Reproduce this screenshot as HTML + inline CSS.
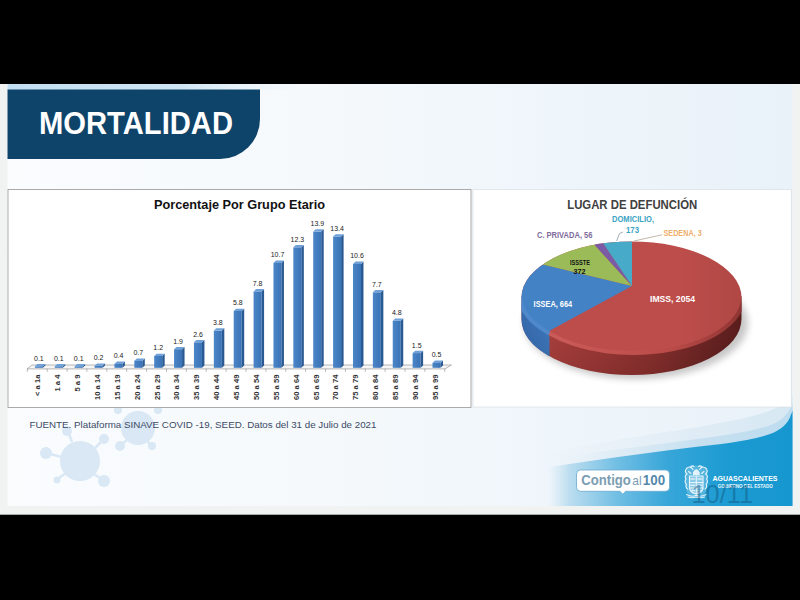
<!DOCTYPE html>
<html><head><meta charset="utf-8"><title>Mortalidad</title>
<style>
html,body{margin:0;padding:0;background:#000;}
body{width:800px;height:600px;overflow:hidden;font-family:"Liberation Sans",sans-serif;}
svg{display:block;}
text{font-family:"Liberation Sans",sans-serif;}
.vl{font-size:7px;fill:#222;text-anchor:middle;}
.cl{font-size:7.6px;font-weight:bold;fill:#333;text-anchor:end;}
</style></head><body>
<svg width="800" height="600" viewBox="0 0 800 600">
<defs>
<linearGradient id="bg" x1="0" y1="0" x2="1" y2="0">
<stop offset="0" stop-color="#fafcfe"/><stop offset="0.4" stop-color="#f5f9fc"/><stop offset="1" stop-color="#e9f2f9"/>
</linearGradient>
<linearGradient id="bf" x1="0" y1="0" x2="1" y2="0">
<stop offset="0" stop-color="#4b86c8"/><stop offset="1" stop-color="#3a73b6"/>
</linearGradient>
<linearGradient id="sw" gradientUnits="userSpaceOnUse" x1="548" y1="0" x2="791" y2="0">
<stop offset="0" stop-color="#c5e2f2" stop-opacity="0"/><stop offset="0.09" stop-color="#b5daee" stop-opacity="0.9"/><stop offset="0.28" stop-color="#72bfe4"/><stop offset="0.49" stop-color="#38a6d9"/><stop offset="0.74" stop-color="#1c9bd2"/><stop offset="1" stop-color="#1797cf"/>
</linearGradient>
<linearGradient id="sw2" gradientUnits="userSpaceOnUse" x1="560" y1="0" x2="791" y2="0">
<stop offset="0" stop-color="#d9eaf5" stop-opacity="0"/><stop offset="0.6" stop-color="#c6e0f0"/><stop offset="1" stop-color="#bddcef"/>
</linearGradient>
<linearGradient id="sw3" gradientUnits="userSpaceOnUse" x1="540" y1="0" x2="791" y2="0">
<stop offset="0" stop-color="#e6eff6" stop-opacity="0"/><stop offset="0.6" stop-color="#e0ecf5"/><stop offset="1" stop-color="#d6e8f3"/>
</linearGradient>
<linearGradient id="strip" gradientUnits="userSpaceOnUse" x1="7" y1="0" x2="300" y2="0">
<stop offset="0" stop-color="#c2def2"/><stop offset="0.6" stop-color="#cfe5f4"/><stop offset="1" stop-color="#e6f0f8" stop-opacity="0"/>
</linearGradient>
<clipPath id="slide"><rect x="7.5" y="84" width="785" height="422"/></clipPath>
<clipPath id="pieclip"><ellipse cx="631.5" cy="297.5" rx="110" ry="56"/></clipPath>
<clipPath id="piesil"><ellipse cx="631.5" cy="297.5" rx="110" ry="56"/><path d="M521.5 297.5 A110 56 0 0 0 741.5 297.5 V319 A110 56 0 0 1 521.5 319Z"/></clipPath>
<filter id="blur3" x="-20%" y="-20%" width="140%" height="140%"><feGaussianBlur stdDeviation="3.5"/></filter>
<linearGradient id="sidev" x1="0" y1="0" x2="0" y2="1"><stop offset="0.35" stop-color="#000" stop-opacity="0"/><stop offset="1" stop-color="#000" stop-opacity="0.11"/></linearGradient>
<linearGradient id="topshade" gradientUnits="userSpaceOnUse" x1="521" y1="0" x2="742" y2="0"><stop offset="0.7" stop-color="#000" stop-opacity="0"/><stop offset="1" stop-color="#000" stop-opacity="0.07"/></linearGradient>
<linearGradient id="bevr" gradientUnits="userSpaceOnUse" x1="549" y1="0" x2="741" y2="0"><stop offset="0" stop-color="#ca5b58"/><stop offset="0.35" stop-color="#c35350"/><stop offset="0.65" stop-color="#b84a47"/><stop offset="1" stop-color="#8f3533"/></linearGradient>
<linearGradient id="redside" x1="0" y1="0" x2="1" y2="0">
<stop offset="0" stop-color="#b04441"/><stop offset="0.3" stop-color="#a03a38"/><stop offset="0.6" stop-color="#8a302e"/><stop offset="0.85" stop-color="#6a2423"/><stop offset="1" stop-color="#591d1c"/>
</linearGradient>
<linearGradient id="blueside" x1="0" y1="0" x2="1" y2="0">
<stop offset="0" stop-color="#3569ab"/><stop offset="1" stop-color="#3d76bb"/>
</linearGradient>
</defs>
<rect width="800" height="600" fill="#000"/>
<rect x="0" y="84" width="800" height="430.7" fill="#f1f2f2"/>
<rect x="7.5" y="84" width="785" height="422" fill="url(#bg)"/>
<g clip-path="url(#slide)">
<!-- virus motifs -->
<g fill="#d9e8f4">
<circle cx="80" cy="461" r="20"/>
<circle cx="46" cy="453" r="6"/><path d="M50 454 L62 457" stroke="#d9e8f4" stroke-width="2.5"/>
<circle cx="104" cy="439" r="5"/><path d="M102 441 L95 448" stroke="#d9e8f4" stroke-width="2.5"/>
<circle cx="104" cy="481" r="6"/><path d="M100 478 L94 474" stroke="#d9e8f4" stroke-width="2.5"/>
<circle cx="57" cy="480" r="3.5"/><path d="M59 478 L66 473" stroke="#d9e8f4" stroke-width="2.5"/>
<circle cx="67" cy="431" r="5"/><path d="M69 434 L72 442" stroke="#d9e8f4" stroke-width="2.5"/>
<circle cx="138" cy="428" r="17"/>
<circle cx="120" cy="446" r="5"/><path d="M122 444 L127 440" stroke="#d9e8f4" stroke-width="2.5"/>
<circle cx="152" cy="446" r="4"/><path d="M150 444 L147 441" stroke="#d9e8f4" stroke-width="2.5"/>
<circle cx="118" cy="410" r="4"/><circle cx="158" cy="410" r="4"/>
</g>
<!-- swoosh -->
<path d="M793 395.500 L791 398 C780 410 755 416 730 421 C700 427 680 430 660 433 C630 438 600 442 560 450 L520 460 L520 506 L793 506Z" fill="url(#sw3)"/>
<path d="M793 404 L791 407 C786 418 776 424 765 427 C745 433 700 439 660 444 C625 449 590 452 560 458 L520 468 L520 506 L793 506Z" fill="url(#sw2)"/>
<path d="M793 410 L791 414.5 C788 424 781 430 770 434 C750 441 720 444 695 447 C660 451 625 456 590 461 C560 465 530 470 500 476 L500 506 L793 506Z" fill="url(#sw)"/>
</g>
<!-- banner -->
<rect x="7.5" y="84" width="293" height="6" fill="url(#strip)"/>
<path d="M7.5 89.5 H260 V119 A40 40 0 0 1 220 159 H7.5Z" fill="#0e4469"/>
<text x="39" y="134.2" font-size="31" font-weight="bold" fill="#fff" textLength="194" lengthAdjust="spacingAndGlyphs">MORTALIDAD</text>
<!-- bar chart box -->
<rect x="8" y="189.5" width="463" height="218" fill="#fff" stroke="#a2a2a2" stroke-width="0.9"/>
<text x="239.5" y="209" font-size="13" font-weight="bold" fill="#111" text-anchor="middle" textLength="171" lengthAdjust="spacingAndGlyphs">Porcentaje Por Grupo Etario</text>
<!-- floor -->
<path d="M27 368.9 L32 365 H451.5 L445 368.9Z" fill="#f6f6f6" stroke="#9a9a9a" stroke-width="0.7"/>
<rect x="34.90" y="366.3" width="8" height="1.5" fill="url(#bf)"/>
<path d="M42.90 366.3 l2.5 -2.3 v1.5 l-2.5 2.3z" fill="#2a5a94"/>
<path d="M34.90 366.3 l2.5 -2.3 h8 l-2.5 2.3z" fill="#6fa0d8"/>
<text x="38.9" y="360.7" class="vl">0.1</text>
<text transform="translate(40.2 374.6) rotate(-90)" class="cl">&lt; a 1a</text>
<path d="M27.3 368.8 v3" stroke="#9a9a9a" stroke-width="0.7"/>
<rect x="54.78" y="366.3" width="8" height="1.5" fill="url(#bf)"/>
<path d="M62.78 366.3 l2.5 -2.3 v1.5 l-2.5 2.3z" fill="#2a5a94"/>
<path d="M54.78 366.3 l2.5 -2.3 h8 l-2.5 2.3z" fill="#6fa0d8"/>
<text x="58.8" y="360.7" class="vl">0.1</text>
<text transform="translate(60.1 374.6) rotate(-90)" class="cl">1 a 4</text>
<path d="M47.2 368.8 v3" stroke="#9a9a9a" stroke-width="0.7"/>
<rect x="74.66" y="366.3" width="8" height="1.5" fill="url(#bf)"/>
<path d="M82.66 366.3 l2.5 -2.3 v1.5 l-2.5 2.3z" fill="#2a5a94"/>
<path d="M74.66 366.3 l2.5 -2.3 h8 l-2.5 2.3z" fill="#6fa0d8"/>
<text x="78.7" y="360.7" class="vl">0.1</text>
<text transform="translate(80.0 374.6) rotate(-90)" class="cl">5 a 9</text>
<path d="M67.1 368.8 v3" stroke="#9a9a9a" stroke-width="0.7"/>
<rect x="94.54" y="365.8" width="8" height="2.0" fill="url(#bf)"/>
<path d="M102.54 365.8 l2.5 -2.3 v2.0 l-2.5 2.3z" fill="#2a5a94"/>
<path d="M94.54 365.8 l2.5 -2.3 h8 l-2.5 2.3z" fill="#6fa0d8"/>
<text x="98.6" y="360.2" class="vl">0.2</text>
<text transform="translate(99.9 374.6) rotate(-90)" class="cl">10 a 14</text>
<path d="M86.9 368.8 v3" stroke="#9a9a9a" stroke-width="0.7"/>
<rect x="114.42" y="363.9" width="8" height="3.9" fill="url(#bf)"/>
<path d="M122.42 363.9 l2.5 -2.3 v3.9 l-2.5 2.3z" fill="#2a5a94"/>
<path d="M114.42 363.9 l2.5 -2.3 h8 l-2.5 2.3z" fill="#6fa0d8"/>
<text x="118.5" y="358.3" class="vl">0.4</text>
<text transform="translate(119.8 374.6) rotate(-90)" class="cl">15 a 19</text>
<path d="M106.8 368.8 v3" stroke="#9a9a9a" stroke-width="0.7"/>
<rect x="134.30" y="360.9" width="8" height="6.9" fill="url(#bf)"/>
<path d="M142.30 360.9 l2.5 -2.3 v6.9 l-2.5 2.3z" fill="#2a5a94"/>
<path d="M134.30 360.9 l2.5 -2.3 h8 l-2.5 2.3z" fill="#6fa0d8"/>
<text x="138.3" y="355.3" class="vl">0.7</text>
<text transform="translate(139.6 374.6) rotate(-90)" class="cl">20 a 24</text>
<path d="M126.7 368.8 v3" stroke="#9a9a9a" stroke-width="0.7"/>
<rect x="154.18" y="356.0" width="8" height="11.8" fill="url(#bf)"/>
<path d="M162.18 356.0 l2.5 -2.3 v11.8 l-2.5 2.3z" fill="#2a5a94"/>
<path d="M154.18 356.0 l2.5 -2.3 h8 l-2.5 2.3z" fill="#6fa0d8"/>
<text x="158.2" y="350.4" class="vl">1.2</text>
<text transform="translate(159.5 374.6) rotate(-90)" class="cl">25 a 29</text>
<path d="M146.6 368.8 v3" stroke="#9a9a9a" stroke-width="0.7"/>
<rect x="174.06" y="349.2" width="8" height="18.6" fill="url(#bf)"/>
<path d="M182.06 349.2 l2.5 -2.3 v18.6 l-2.5 2.3z" fill="#2a5a94"/>
<path d="M174.06 349.2 l2.5 -2.3 h8 l-2.5 2.3z" fill="#6fa0d8"/>
<text x="178.1" y="343.6" class="vl">1.9</text>
<text transform="translate(179.4 374.6) rotate(-90)" class="cl">30 a 34</text>
<path d="M166.5 368.8 v3" stroke="#9a9a9a" stroke-width="0.7"/>
<rect x="193.94" y="342.3" width="8" height="25.5" fill="url(#bf)"/>
<path d="M201.94 342.3 l2.5 -2.3 v25.5 l-2.5 2.3z" fill="#2a5a94"/>
<path d="M193.94 342.3 l2.5 -2.3 h8 l-2.5 2.3z" fill="#6fa0d8"/>
<text x="198.0" y="336.7" class="vl">2.6</text>
<text transform="translate(199.3 374.6) rotate(-90)" class="cl">35 a 39</text>
<path d="M186.3 368.8 v3" stroke="#9a9a9a" stroke-width="0.7"/>
<rect x="213.82" y="330.6" width="8" height="37.2" fill="url(#bf)"/>
<path d="M221.82 330.6 l2.5 -2.3 v37.2 l-2.5 2.3z" fill="#2a5a94"/>
<path d="M213.82 330.6 l2.5 -2.3 h8 l-2.5 2.3z" fill="#6fa0d8"/>
<text x="217.9" y="325.0" class="vl">3.8</text>
<text transform="translate(219.2 374.6) rotate(-90)" class="cl">40 a 44</text>
<path d="M206.2 368.8 v3" stroke="#9a9a9a" stroke-width="0.7"/>
<rect x="233.70" y="311.0" width="8" height="56.8" fill="url(#bf)"/>
<path d="M241.70 311.0 l2.5 -2.3 v56.8 l-2.5 2.3z" fill="#2a5a94"/>
<path d="M233.70 311.0 l2.5 -2.3 h8 l-2.5 2.3z" fill="#6fa0d8"/>
<text x="237.8" y="305.4" class="vl">5.8</text>
<text transform="translate(239.0 374.6) rotate(-90)" class="cl">45 a 49</text>
<path d="M226.1 368.8 v3" stroke="#9a9a9a" stroke-width="0.7"/>
<rect x="253.58" y="291.4" width="8" height="76.4" fill="url(#bf)"/>
<path d="M261.58 291.4 l2.5 -2.3 v76.4 l-2.5 2.3z" fill="#2a5a94"/>
<path d="M253.58 291.4 l2.5 -2.3 h8 l-2.5 2.3z" fill="#6fa0d8"/>
<text x="257.6" y="285.8" class="vl">7.8</text>
<text transform="translate(258.9 374.6) rotate(-90)" class="cl">50 a 54</text>
<path d="M246.0 368.8 v3" stroke="#9a9a9a" stroke-width="0.7"/>
<rect x="273.46" y="262.9" width="8" height="104.9" fill="url(#bf)"/>
<path d="M281.46 262.9 l2.5 -2.3 v104.9 l-2.5 2.3z" fill="#2a5a94"/>
<path d="M273.46 262.9 l2.5 -2.3 h8 l-2.5 2.3z" fill="#6fa0d8"/>
<text x="277.5" y="257.3" class="vl">10.7</text>
<text transform="translate(278.8 374.6) rotate(-90)" class="cl">55 a 59</text>
<path d="M265.9 368.8 v3" stroke="#9a9a9a" stroke-width="0.7"/>
<rect x="293.34" y="247.3" width="8" height="120.5" fill="url(#bf)"/>
<path d="M301.34 247.3 l2.5 -2.3 v120.5 l-2.5 2.3z" fill="#2a5a94"/>
<path d="M293.34 247.3 l2.5 -2.3 h8 l-2.5 2.3z" fill="#6fa0d8"/>
<text x="297.4" y="241.7" class="vl">12.3</text>
<text transform="translate(298.7 374.6) rotate(-90)" class="cl">60 a 64</text>
<path d="M285.8 368.8 v3" stroke="#9a9a9a" stroke-width="0.7"/>
<rect x="313.22" y="231.6" width="8" height="136.2" fill="url(#bf)"/>
<path d="M321.22 231.6 l2.5 -2.3 v136.2 l-2.5 2.3z" fill="#2a5a94"/>
<path d="M313.22 231.6 l2.5 -2.3 h8 l-2.5 2.3z" fill="#6fa0d8"/>
<text x="317.3" y="226.0" class="vl">13.9</text>
<text transform="translate(318.6 374.6) rotate(-90)" class="cl">65 a 69</text>
<path d="M305.6 368.8 v3" stroke="#9a9a9a" stroke-width="0.7"/>
<rect x="333.10" y="236.5" width="8" height="131.3" fill="url(#bf)"/>
<path d="M341.10 236.5 l2.5 -2.3 v131.3 l-2.5 2.3z" fill="#2a5a94"/>
<path d="M333.10 236.5 l2.5 -2.3 h8 l-2.5 2.3z" fill="#6fa0d8"/>
<text x="337.1" y="230.9" class="vl">13.4</text>
<text transform="translate(338.4 374.6) rotate(-90)" class="cl">70 a 74</text>
<path d="M325.5 368.8 v3" stroke="#9a9a9a" stroke-width="0.7"/>
<rect x="352.98" y="263.9" width="8" height="103.9" fill="url(#bf)"/>
<path d="M360.98 263.9 l2.5 -2.3 v103.9 l-2.5 2.3z" fill="#2a5a94"/>
<path d="M352.98 263.9 l2.5 -2.3 h8 l-2.5 2.3z" fill="#6fa0d8"/>
<text x="357.0" y="258.3" class="vl">10.6</text>
<text transform="translate(358.3 374.6) rotate(-90)" class="cl">75 a 79</text>
<path d="M345.4 368.8 v3" stroke="#9a9a9a" stroke-width="0.7"/>
<rect x="372.86" y="292.3" width="8" height="75.5" fill="url(#bf)"/>
<path d="M380.86 292.3 l2.5 -2.3 v75.5 l-2.5 2.3z" fill="#2a5a94"/>
<path d="M372.86 292.3 l2.5 -2.3 h8 l-2.5 2.3z" fill="#6fa0d8"/>
<text x="376.9" y="286.7" class="vl">7.7</text>
<text transform="translate(378.2 374.6) rotate(-90)" class="cl">80 a 84</text>
<path d="M365.3 368.8 v3" stroke="#9a9a9a" stroke-width="0.7"/>
<rect x="392.74" y="320.8" width="8" height="47.0" fill="url(#bf)"/>
<path d="M400.74 320.8 l2.5 -2.3 v47.0 l-2.5 2.3z" fill="#2a5a94"/>
<path d="M392.74 320.8 l2.5 -2.3 h8 l-2.5 2.3z" fill="#6fa0d8"/>
<text x="396.8" y="315.2" class="vl">4.8</text>
<text transform="translate(398.1 374.6) rotate(-90)" class="cl">85 a 89</text>
<path d="M385.1 368.8 v3" stroke="#9a9a9a" stroke-width="0.7"/>
<rect x="412.62" y="353.1" width="8" height="14.7" fill="url(#bf)"/>
<path d="M420.62 353.1 l2.5 -2.3 v14.7 l-2.5 2.3z" fill="#2a5a94"/>
<path d="M412.62 353.1 l2.5 -2.3 h8 l-2.5 2.3z" fill="#6fa0d8"/>
<text x="416.7" y="347.5" class="vl">1.5</text>
<text transform="translate(418.0 374.6) rotate(-90)" class="cl">90 a 94</text>
<path d="M405.0 368.8 v3" stroke="#9a9a9a" stroke-width="0.7"/>
<rect x="432.50" y="362.9" width="8" height="4.9" fill="url(#bf)"/>
<path d="M440.50 362.9 l2.5 -2.3 v4.9 l-2.5 2.3z" fill="#2a5a94"/>
<path d="M432.50 362.9 l2.5 -2.3 h8 l-2.5 2.3z" fill="#6fa0d8"/>
<text x="436.5" y="357.3" class="vl">0.5</text>
<text transform="translate(437.8 374.6) rotate(-90)" class="cl">95 a 99</text>
<path d="M424.9 368.8 v3" stroke="#9a9a9a" stroke-width="0.7"/>
<path d="M444.8 368.8 v3" stroke="#9a9a9a" stroke-width="0.7"/>
<!-- pie box -->
<rect x="473" y="189.5" width="318.3" height="217.5" fill="#fff" stroke="#dbe1e5" stroke-width="0.8"/>
<text x="632.2" y="209.3" font-size="12" font-weight="bold" fill="#404040" text-anchor="middle" textLength="130" lengthAdjust="spacingAndGlyphs">LUGAR DE DEFUNCIÓN</text>
<!-- pie -->
<ellipse cx="636" cy="323" rx="112" ry="56" fill="#000" opacity="0.22" filter="url(#blur3)"/>
<path d="M521.5 297.5 A110 56 0 0 0 741.5 297.5 V319 A110 56 0 0 1 521.5 319Z" fill="url(#redside)"/>
<path d="M521.5 297.5 A110 56 0 0 0 549.5 334.9 V356.4 A110 56 0 0 1 521.5 319Z" fill="url(#blueside)"/>
<path d="M521.5 297.5 A110 56 0 0 0 741.5 297.5 V319 A110 56 0 0 1 521.5 319Z" fill="url(#sidev)"/>
<g clip-path="url(#pieclip)">
<rect x="500" y="230" width="260" height="140" fill="#bd4d4a"/>
<path d="M632 286 L383 421 L359 220 Z" fill="#4382c4"/>
<path d="M632 286 L359 220 L519.2 161.8 Z" fill="#9bbb59"/>
<path d="M632 286 L519.2 161.8 L545 157 Z" fill="#7b5aa6"/>
<path d="M632 286 L545 157 L632 157 Z" fill="#46aac8"/>
<rect x="500" y="230" width="260" height="140" fill="url(#topshade)"/>
</g>
<!-- bevel -->
<g fill="none" stroke-width="4" stroke-linecap="butt" clip-path="url(#piesil)">
<path d="M520 296 A110 56 0 0 0 549.500 333.400" stroke="#5089cb"/>
<path d="M549.500 333.400 A110 56 0 0 0 743 296" stroke="url(#bevr)"/>
</g>
<g font-weight="bold">
<text x="650" y="302" font-size="9" fill="#fff" textLength="45" lengthAdjust="spacingAndGlyphs">IMSS, 2054</text>
<text x="533.6" y="307.3" font-size="9" fill="#fff" textLength="38.5" lengthAdjust="spacingAndGlyphs">ISSEA, 664</text>
<text x="570" y="265" font-size="6.8" fill="#111" textLength="20" lengthAdjust="spacingAndGlyphs">ISSSTE</text>
<text x="573.6" y="273.8" font-size="7" fill="#111" textLength="12" lengthAdjust="spacingAndGlyphs">372</text>
<text x="564.7" y="238" font-size="8.6" fill="#806c9c" text-anchor="middle" textLength="55.5" lengthAdjust="spacingAndGlyphs">C. PRIVADA, 56</text>
<text x="633" y="221.6" font-size="8.3" fill="#3ba3c4" text-anchor="middle" textLength="42" lengthAdjust="spacingAndGlyphs">DOMICILIO,</text>
<text x="632.5" y="232.5" font-size="8.3" fill="#3ba3c4" text-anchor="middle" textLength="13" lengthAdjust="spacingAndGlyphs">173</text>
<text x="682.6" y="235.8" font-size="8.3" fill="#f0ae6c" text-anchor="middle" textLength="38.2" lengthAdjust="spacingAndGlyphs">SEDENA, 3</text>
</g>
<path d="M623 232 L619.5 233.5 L616.6 241" stroke="#8b9aa6" stroke-width="0.8" fill="none"/>
<path d="M662 234.8 L634 241" stroke="#b5a595" stroke-width="0.8" fill="none"/>
<!-- source -->
<text x="29.5" y="428" font-size="9.6" fill="#3b4a66" textLength="347" lengthAdjust="spacingAndGlyphs">FUENTE. Plataforma SINAVE COVID -19, SEED. Datos del 31 de Julio de 2021</text>
<!-- contigo -->
<path d="M580.5 470 H665.5 A4 4 0 0 1 669.500 474 V487.300 A4 4 0 0 1 665.500 491.300 H625.500 L622.800 494.200 L620 491.300 H580.500 A4 4 0 0 1 576.500 487.300 V474 A4 4 0 0 1 580.500 470Z" fill="#fff" stroke="#6aa9cf" stroke-width="0.8"/>
<text x="581.3" y="484.900" font-size="14.500" font-weight="bold" fill="#7b9db3" textLength="49.500" lengthAdjust="spacingAndGlyphs">Contigo</text>
<text x="632.300" y="484.900" font-size="13.500" fill="#7b9db3" textLength="9.300" lengthAdjust="spacingAndGlyphs">al</text>
<text x="642.800" y="484.900" font-size="14.500" font-weight="bold" fill="#5488aa" textLength="22.300" lengthAdjust="spacingAndGlyphs">100</text>
<!-- crest -->
<path d="M686.500 467.500 Q696.300 463.500 706.500 467.500 L707.800 478 L706 491 L703 496.500 H689.500 L686.500 491 L684.800 478Z" fill="#fff" opacity="0.22"/>
<g fill="none" stroke="#eef8fd" stroke-width="1.1" stroke-linecap="round" stroke-linejoin="round" opacity="0.95">
<path d="M693.5 472.5 q2.8 -5.5 5.6 0 v2 h-5.6z" fill="#eaf6fc"/>
<path d="M693 469.5 q-3 -4.5 -6.5 -1 q-2.5 3 0.5 5.5 q-3 2 -1 5 q-2 3 0.5 5.500 q-1.500 2.500 1 4.500"/>
<path d="M699.600 469.500 q3 -4.500 6.500 -1 q2.500 3 -0.500 5.500 q3 2 1 5 q2 3 -0.500 5.500 q1.500 2.500 -1 4.500"/>
<path d="M690.500 467 q1.500 -2 3.500 -0.500 M702 467 q-1.500 -2 -3.500 -0.500"/>
<path d="M688.500 471.500 l2.500 2 M704 471.500 l-2.500 2"/>
<path d="M689.500 476 h13.500 v12.500 q-1 4 -6.750 5.500 q-5.750 -1.500 -6.750 -5.500z" fill="#fff" fill-opacity="0.3"/>
<path d="M689.500 482.500 h13.500 M696.300 476 v17.500 M689.500 488 h13.500"/>
<path d="M691 479 h3.500 M698 479 h3.500 M691 485.300 h3.500 M698 485.300 h3.500 M692 490.500 h2.500 M698 490.500 h2.500" stroke-width="1.600" opacity="0.85"/>
<path d="M686.500 494.500 q5 3 9.800 0.800 q4.800 2.200 9.800 -0.800 M688 497 q4 1.500 8.300 0 q4.300 1.500 8.300 0"/>
</g>
<text x="712.5" y="481.3" font-size="7.9" font-weight="bold" fill="#fff" textLength="65" lengthAdjust="spacingAndGlyphs">AGUASCALIENTES</text>
<text x="717.8" y="488.2" font-size="5" font-weight="bold" fill="#eaf5fb" textLength="55" lengthAdjust="spacingAndGlyphs">GOBIERNO DEL ESTADO</text>
<text x="691.5" y="503" font-size="25" fill="#0f5a82" fill-opacity="0.5" textLength="61.5" lengthAdjust="spacingAndGlyphs">10/11</text>
</svg>
</body></html>
